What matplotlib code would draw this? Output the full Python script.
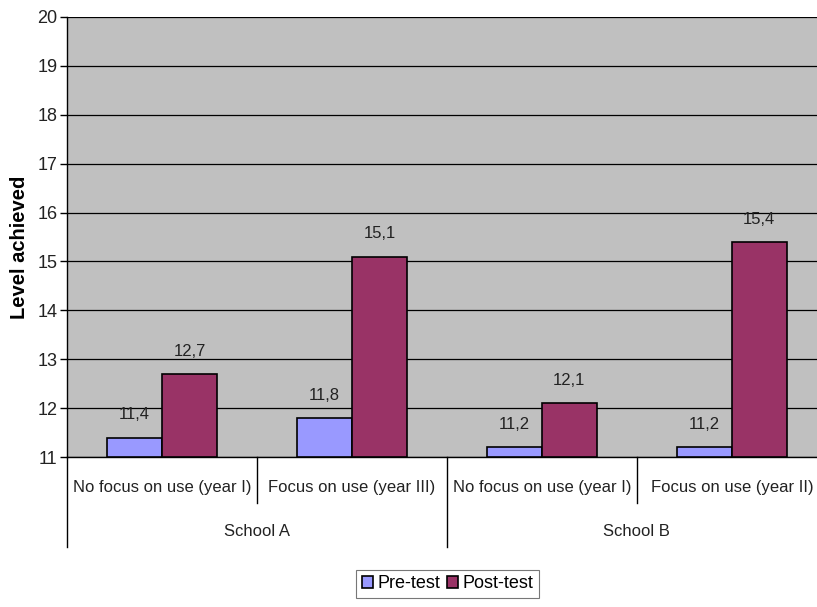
import matplotlib.pyplot as plt
import matplotlib.transforms as mtransforms
import numpy as np

plt.rcParams['font.family'] = ['Liberation Sans', 'DejaVu Sans']

# categories and schools
categories = ['No focus on use (year I)', 'Focus on use (year III)',
              'No focus on use (year I)', 'Focus on use (year II)']
schools = ['School A', 'School B']
# levels for each category
pre_test = [11.4, 11.8, 11.2, 11.2]
post_test = [12.7, 15.1, 12.1, 15.4]
series_names = ['Pre-test', 'Post-test']
colors = ['#9999FF', '#993366']

fig = plt.figure(figsize=(8.17, 6.07), dpi=100)
# plot area runs a little past the right edge, as in the original
ax = fig.add_axes([0.082, 0.247, 0.930, 0.725])
ax.set_facecolor('#C0C0C0')

x = np.arange(len(categories))
width = 0.29
bars_pre = ax.bar(x - width / 2, np.array(pre_test) - 11, width, bottom=11,
                  color=colors[0], edgecolor='black', linewidth=1.2,
                  label=series_names[0], zorder=3)
bars_post = ax.bar(x + width / 2, np.array(post_test) - 11, width, bottom=11,
                   color=colors[1], edgecolor='black', linewidth=1.2,
                   label=series_names[1], zorder=3)

for bars, vals in [(bars_pre, pre_test), (bars_post, post_test)]:
    for b, v in zip(bars, vals):
        ax.annotate(f'{v:.1f}'.replace('.', ','),
                    (b.get_x() + b.get_width() / 2, v),
                    xytext=(0, 11), textcoords='offset points',
                    ha='center', va='bottom', fontsize=12, color='#222222')

ax.set_xlim(-0.5, len(categories) - 0.5)
ax.set_ylim(11, 20)
ax.set_yticks(range(11, 21))
ax.yaxis.grid(True, color='black', linewidth=0.9, zorder=1)
ax.set_axisbelow(True)
ax.tick_params(axis='y', labelsize=13, length=5, width=1, pad=2,
               labelcolor='#222222')
ax.set_xticks([])
for side in ['top', 'right']:
    ax.spines[side].set_visible(False)
ax.spines['left'].set_linewidth(1)
ax.spines['bottom'].set_linewidth(1)

ax.set_ylabel('Level achieved', fontsize=14.5, fontweight='bold')
ax.yaxis.set_label_coords(-0.050, 0.477)

# two-level category axis below the plot
trans = mtransforms.blended_transform_factory(ax.transData, ax.transAxes)
for i, cat in enumerate(categories):
    ax.text(i, -0.07, cat, transform=trans, ha='center', va='center',
            fontsize=12, color='#222222')
for j, school in enumerate(schools):
    ax.text(2 * j + 0.5, -0.17, school, transform=trans, ha='center',
            va='center', fontsize=12, color='#222222')
for k in range(len(categories) + 1):
    edge = k - 0.5
    depth = -0.205 if k % 2 == 0 else -0.105
    ax.plot([edge, edge], [0, depth], transform=trans, color='black',
            linewidth=1, clip_on=False)

leg = fig.legend(loc='center', bbox_to_anchor=(0.548, 0.038), ncol=2,
                 fontsize=13, frameon=True, fancybox=False,
                 edgecolor='#555555', handlelength=0.6, handleheight=0.6,
                 handletextpad=0.25, columnspacing=0.4, borderpad=0.3)
leg.get_frame().set_linewidth(0.8)

fig.savefig('out.png', dpi=100)
